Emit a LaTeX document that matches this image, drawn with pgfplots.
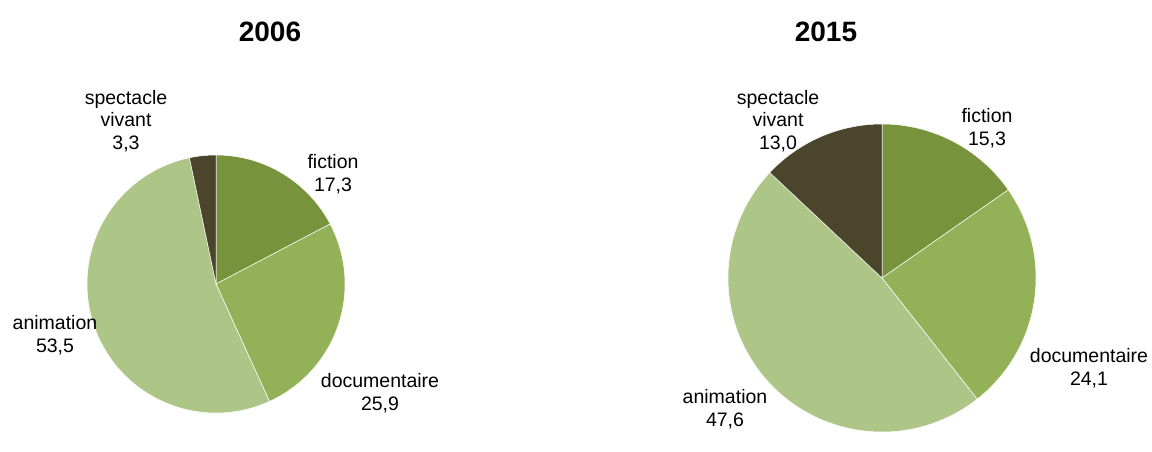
\documentclass[border=0pt]{standalone}
\usepackage{pgfplots}
\pgfplotsset{compat=1.18}
\usepackage{fontspec}
\setmainfont{Liberation Sans}

\definecolor{cFic}{HTML}{77933C}
\definecolor{cDoc}{HTML}{93B156}
\definecolor{cAni}{HTML}{ADC687}
\definecolor{cSpe}{HTML}{4A452B}

\tikzset{
  lbl/.style={font=\fontsize{19.5}{22.5}\selectfont, align=center, inner sep=0pt},
  ttl/.style={font=\fontsize{28}{30}\selectfont\bfseries, inner sep=0pt},
}

\pgfdeclareplotmark{pieslice}{%
  \pgfmathsetmacro\aA{90-3.6*\wS}%
  \pgfmathsetmacro\aB{90-3.6*(\wS+\wP)}%
  \pgfpathmoveto{\pgfpointorigin}%
  \pgfpathlineto{\pgfpointpolar{\aA}{\wR pt}}%
  \pgfpatharc{\aA}{\aB}{\wR pt}%
  \pgfpathclose
  \pgfsetfillcolor{\wC}%
  \pgfsetstrokecolor{white}%
  \pgfsetlinewidth{0.5pt}%
  \pgfusepathqfillstroke}

\pgfplotsset{
  pie/.style={only marks, mark=pieslice,
    visualization depends on={value \thisrow{r} \as \wR},
    visualization depends on={value \thisrow{start} \as \wS},
    visualization depends on={value \thisrow{pct} \as \wP},
    visualization depends on={value \thisrow{col} \as \wC}},
}

\begin{document}
\begin{tikzpicture}
\begin{axis}[
  width=1152pt, height=430pt, scale only axis,
  xmin=0, xmax=1152, ymin=0, ymax=430,
  hide axis, clip=false, set layers,
  ]
  \path (rel axis cs:0,0) rectangle (rel axis cs:1,1);
  % one slice per row: centre, radius, start share, share, colour
  \addplot[pie] table {
    cx  cy  r   start pct  col
    216 146 129 0     17.3 cFic
    216 146 129 17.3  25.9 cDoc
    216 146 129 43.2  53.5 cAni
    216 146 129 96.7  3.3  cSpe
  };
  \addplot[pie] table {
    cx  cy  r   start pct  col
    882 152 154 0     15.3 cFic
    882 152 154 15.3  24.1 cDoc
    882 152 154 39.4  47.6 cAni
    882 152 154 87.0  13.0 cSpe
  };

  \begin{pgfonlayer}{axis foreground}
  \node[ttl] at (axis cs:270,398) {2006};
  \node[ttl] at (axis cs:826,398) {2015};

  \node[lbl] at (axis cs:126,309) {spectacle\\vivant\\3,3};
  \node[lbl] at (axis cs:333,256) {fiction\\17,3};
  \node[lbl] at (axis cs:55,95) {animation\\53,5};
  \node[lbl] at (axis cs:380,37) {documentaire\\25,9};

  \node[lbl] at (axis cs:778,309) {spectacle\\vivant\\13,0};
  \node[lbl] at (axis cs:987,302) {fiction\\15,3};
  \node[lbl] at (axis cs:1089,62) {documentaire\\24,1};
  \node[lbl] at (axis cs:725,21) {animation\\47,6};
  \end{pgfonlayer}
\end{axis}
\end{tikzpicture}
\end{document}
